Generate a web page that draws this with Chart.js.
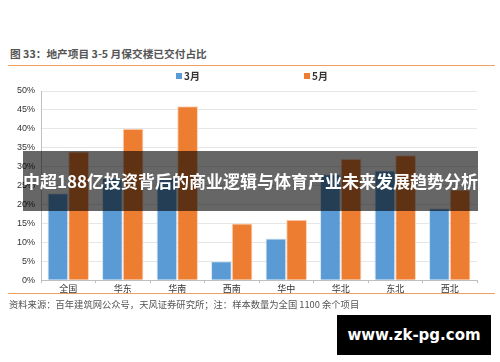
<!DOCTYPE html>
<html>
<head>
<meta charset="utf-8">
<script src="https://cdn.jsdelivr.net/npm/chart.js@4"></script>
<style>
  body { margin: 0; width: 500px; height: 362px; background: #fff; position: relative; overflow: hidden;
         font-family: "Noto Sans CJK SC", "Noto Sans", sans-serif; }
  #title { position: absolute; left: 10px; top: 46px; font-size: 10.7px; font-weight: bold; color: #555; }
  .rule { position: absolute; left: 8px; width: 487px; height: 1px; background: #f0a060; }
  #box { position: absolute; left: 0; top: 66px; width: 490px; height: 228px; }
  #legend { position: absolute; top: 69px; left: 0; width: 500px; height: 14px; }
  .item { position: absolute; top: 0; font-size: 10px; font-weight: bold; color: #333; line-height: 14px; }
  .item span { display: inline-block; width: 6px; height: 6px; margin-right: 2px; vertical-align: 1px; }
  #source { position: absolute; left: 9px; top: 297px; font-size: 9.3px; color: #555; }
  #banner { position: absolute; left: 23px; top: 151px; width: 455px; height: 60px; background: rgba(0,0,0,0.6);
            color: #fff; font-weight: bold; font-size: 17px; line-height: 60px; text-align: center; white-space: nowrap; }
  #mark { position: absolute; left: 337px; top: 315px; width: 154px; height: 40px; background: #000; color: #fff;
          font-weight: bold; font-size: 15px; line-height: 40px; text-align: center; font-family: "DejaVu Sans", sans-serif; }
</style>
</head>
<body>
<div id="title">图 33：地产项目 3-5 月保交楼已交付占比</div>
<div class="rule" style="top:65px"></div>
<div id="box"><canvas id="c"></canvas></div>
<div id="legend"></div>
<div class="rule" style="top:293px"></div>
<div id="source">资料来源：百年建筑网公众号，天风证券研究所；注：样本数量为全国 1100 余个项目</div>
<div id="banner">中超188亿投资背后的商业逻辑与体育产业未来发展趋势分析</div>
<div id="mark">www.zk-pg.com</div>
<script>
var regions = ["全国", "华东", "华南", "西南", "华中", "华北", "东北", "西北"];
var march = [23, 27, 27, 5, 11, 28, 29, 19];
var may = [34, 40, 46, 15, 16, 32, 33, 24];
var yTicks = [0, 5, 10, 15, 20, 25, 30, 35, 40, 45, 50];

var chartData = {
  labels: regions,
  datasets: [{
    label: "3月",
    backgroundColor: "#5B9BD5",
    borderColor: "#d6e6f5",
    borderWidth: { left: 1, right: 1, top: 1, bottom: 0 },
    data: march,
  }, {
    label: "5月",
    backgroundColor: "#ED7D31",
    borderColor: "#fad2b6",
    borderWidth: { left: 1, right: 1, top: 1, bottom: 0 },
    data: may,
  }]
};

// legend built from the datasets, items placed like the original
var legendX = [176, 304];
var legend = document.getElementById("legend");
chartData.datasets.forEach(function (ds, i) {
  var el = document.createElement("div");
  el.className = "item";
  el.style.left = legendX[i] + "px";
  el.innerHTML = '<span style="background:' + ds.backgroundColor + '"></span>' + ds.label;
  legend.appendChild(el);
});

var barGraph = new Chart("c", {
  type: 'bar',
  data: chartData,
  options: {
    responsive: true,
    maintainAspectRatio: false,
    animation: false,
    layout: { padding: { right: 13, top: 25, bottom: 0 } },
    datasets: { bar: { categoryPercentage: 0.76, barPercentage: 1.0 } },
    plugins: {
      legend: { display: false },
      tooltip: { enabled: false }
    },
    scales: {
      x: {
        grid: { display: true, drawOnChartArea: false, offset: true, color: '#bfbfbf', tickLength: 3 },
        border: { color: '#bfbfbf' },
        ticks: { color: '#333', padding: 0, font: { size: 9, family: '"Noto Sans CJK SC", sans-serif' } }
      },
      y: {
        min: 0, max: 50,
        afterFit: function (s) { s.width = 41; },
        afterBuildTicks: function (s) { s.ticks = yTicks.map(function (v) { return { value: v }; }); },
        grid: { color: '#e6e6e6', drawTicks: false },
        border: { color: '#bfbfbf' },
        ticks: {
          color: '#333', padding: 6,
          font: { size: 9, family: '"Liberation Sans", sans-serif' },
          callback: function (v) { return v + '%'; }
        }
      }
    }
  },
});
</script>
</body>
</html>
